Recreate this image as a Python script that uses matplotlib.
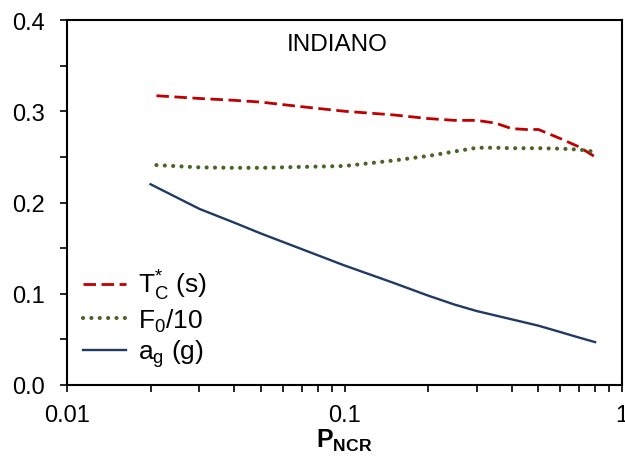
import numpy as np
import matplotlib
matplotlib.use('Agg')
import matplotlib.pyplot as plt
from matplotlib.ticker import LogLocator, FixedLocator, NullFormatter

plt.rcParams['font.family'] = ['Liberation Sans', 'DejaVu Sans']
plt.rcParams['mathtext.fontset'] = 'custom'
plt.rcParams['mathtext.rm'] = 'Liberation Sans'
plt.rcParams['mathtext.it'] = 'Liberation Sans'
plt.rcParams['mathtext.bf'] = 'Liberation Sans:bold'
plt.rcParams['mathtext.default'] = 'regular'

# values
p_tc = [0.021, 0.03, 0.04, 0.05, 0.07, 0.1, 0.15, 0.2, 0.25, 0.3, 0.35, 0.4, 0.45, 0.5, 0.6, 0.7, 0.8]
tc = [0.317, 0.314, 0.312, 0.310, 0.305, 0.300, 0.296, 0.292, 0.290, 0.290, 0.287, 0.281, 0.280, 0.280, 0.270, 0.261, 0.250]

p_f0 = [0.021, 0.03, 0.04, 0.05, 0.07, 0.1, 0.15, 0.2, 0.25, 0.3, 0.35, 0.4, 0.5, 0.6, 0.7, 0.8]
f0 = [0.241, 0.2385, 0.238, 0.238, 0.239, 0.240, 0.246, 0.251, 0.256, 0.260, 0.260, 0.2595, 0.2595, 0.259, 0.258, 0.2555]

p_ag = [0.02, 0.03, 0.04, 0.05, 0.07, 0.1, 0.15, 0.2, 0.25, 0.3, 0.4, 0.5, 0.6, 0.7, 0.8]
ag = [0.220, 0.193, 0.178, 0.166, 0.149, 0.131, 0.112, 0.098, 0.088, 0.081, 0.072, 0.065, 0.058, 0.052, 0.047]

labels = [r'T$^{*}_{C}$ (s)', r'F$_0$/10', r'a$_g$ (g)']
xticks = [0.01, 0.1, 1]
xticklabels = ['0.01', '0.1', '1']
yticks = [0.0, 0.1, 0.2, 0.3, 0.4]

fig = plt.figure(figsize=(6.25, 4.6), dpi=100)
ax = fig.add_axes([67/625, 74/460, 555/625, 365/460])

ax.plot(p_tc, tc, color='#C00000', lw=2.0, linestyle=(0, (4.5, 2.0)), label=labels[0])
ax.plot(p_f0, f0, color='#4F6228', lw=3.0, linestyle=(0, (0.01, 2.0)),
        dash_capstyle='round', label=labels[1])
ax.plot(p_ag, ag, color='#1F3B64', lw=1.7, label=labels[2])

ax.set_xscale('log')
ax.set_xlim(0.01, 1)
ax.set_ylim(0, 0.4)
ax.set_xticks(xticks)
ax.set_xticklabels(xticklabels)
ax.xaxis.set_minor_locator(LogLocator(base=10, subs=np.arange(2, 10)))
ax.xaxis.set_minor_formatter(NullFormatter())
ax.set_yticks(yticks)
ax.set_yticklabels(['%.1f' % v for v in yticks])
ax.yaxis.set_minor_locator(FixedLocator([0.05, 0.15, 0.25, 0.35]))

ax.tick_params(which='both', direction='out', length=5, width=1.2, labelsize=17, colors='black')
ax.tick_params(axis='y', which='both', pad=11)
ax.tick_params(axis='x', which='both', pad=9)
for s in ax.spines.values():
    s.set_linewidth(1.5)

ax.set_xlabel(r'$\mathbf{P_{NCR}}$', fontsize=18, labelpad=0)
ax.text(0.486, 0.935, 'INDIANO', transform=ax.transAxes, ha='center', va='center', fontsize=17.5)

ax.legend(loc='lower left', bbox_to_anchor=(0.0, 0.0), frameon=False, fontsize=19,
          handlelength=1.65, handletextpad=0.45, labelspacing=0.15, borderaxespad=0.2)

fig.savefig('out.png', dpi=100)
